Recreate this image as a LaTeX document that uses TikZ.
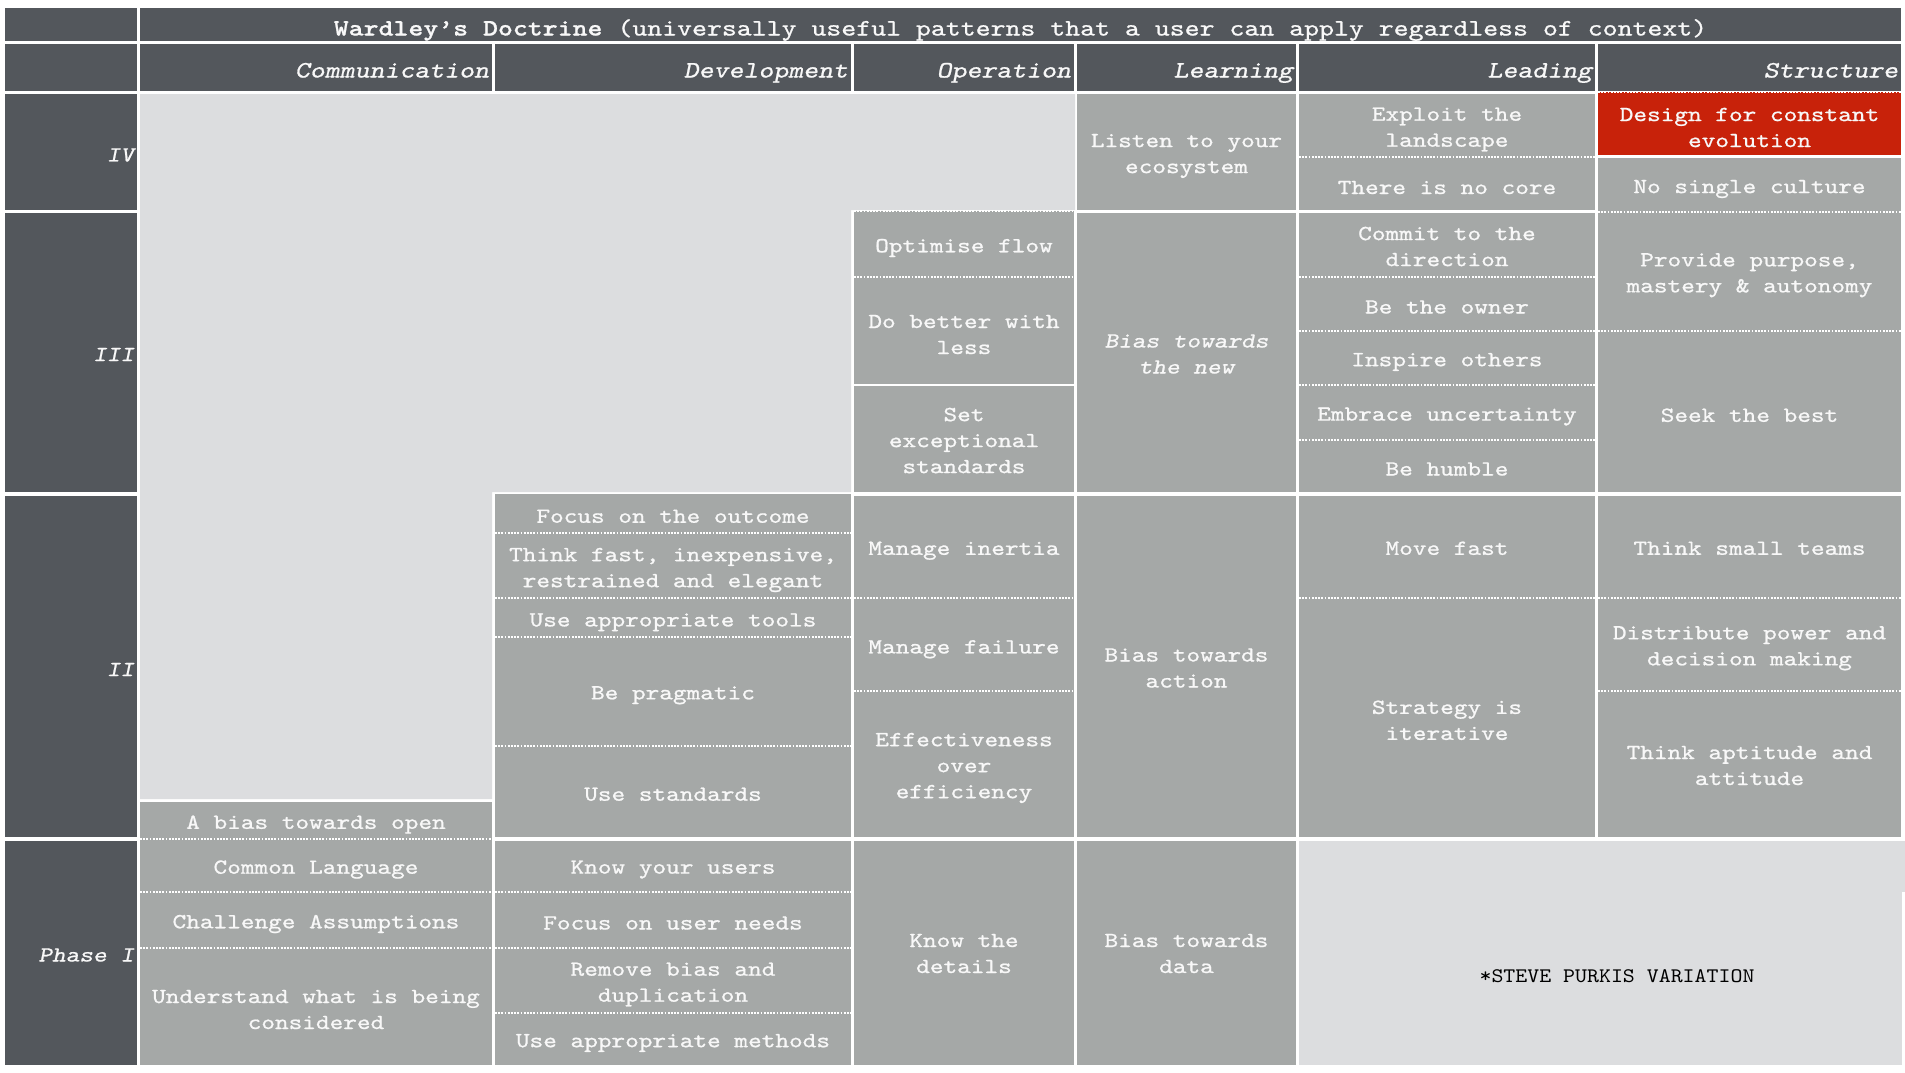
\documentclass[tikz,border=0pt]{standalone}
\usepackage{fontspec}
\newfontfamily\wmono[Extension=.otf, UprightFont=lmmono10-regular, BoldFont=lmmonolt10-bold, ItalicFont=lmmonoslant10-regular, FakeStretch=1.21, FakeBold=0.9]{lmmono10-regular}
\newfontfamily\wnote[Extension=.otf, FakeStretch=1.1]{lmmono10-regular}
\definecolor{darkhdr}{RGB}{83,87,92}
\definecolor{cellgray}{RGB}{165,168,167}
\definecolor{lightreg}{RGB}{220,221,223}
\definecolor{redcell}{RGB}{200,34,10}
\definecolor{celltext}{RGB}{248,248,248}
\tikzset{
  base/.style={inner sep=0pt, outer sep=0pt, draw=none, align=center, text=celltext,
    font=\wmono\fontsize{21.5}{26}\selectfont},
  cellst/.style={base, fill=cellgray},
  italst/.style={base, fill=cellgray, font=\wmono\itshape\fontsize{21.5}{26}\selectfont},
  redst/.style={base, fill=redcell},
  hdrst/.style={base, fill=darkhdr},
  titlest/.style={base, fill=darkhdr, font=\wmono\fontsize{23.5}{26}\selectfont},
  colhd/.style={inner sep=0pt, outer sep=0pt, text=celltext, anchor=base east,
    font=\wmono\itshape\fontsize{23.5}{26}\selectfont},
  rowhd/.style={inner sep=0pt, outer sep=0pt, text=celltext, anchor=east,
    font=\wmono\itshape\fontsize{21.5}{26}\selectfont},
  notest/.style={inner sep=0pt, outer sep=0pt, text=black,
    font=\wnote\fontsize{20.7}{24}\selectfont},
  dotline/.style={draw=white, line width=2pt, dash pattern=on 1.8pt off 1.4pt},
}
% [#1 text shift], #2 style, #3 name, #4 x1, #5 y1, #6 x2, #7 y2, #8 text
\newcommand\cbox[8][-4pt]{%
  \node[#2, minimum width={(#6-#4)*1pt}, minimum height={(#7-#5)*1pt}] (#3)
    at ({(#4+#6)/2},{(#5+#7)/2}) {};
  \node[#2, fill=none] (#3t) at ([yshift=#1]#3.center) {#8};}
\newcommand\sepline[1]{\draw[dotline] (#1.south west) -- (#1.south east);}
\begin{document}
\begin{tikzpicture}[x=1pt,y=-1pt]
\useasboundingbox (0,0) rectangle (1905,1072);
\fill[white] (0,0) rectangle (1905,1072);
\coordinate (tbase) at (0,35.5);
\coordinate (hbase) at (0,77.5);

% left column
\cbox{hdrst}{c00}{5}{8}{137}{41}{}
\cbox{hdrst}{c01}{5}{43.5}{137}{91}{}
\cbox{hdrst}{rIV}{5}{94}{137}{210}{}
\cbox{hdrst}{rIII}{5}{213}{137}{492}{}
\cbox{hdrst}{rII}{5}{496}{137}{837}{}
\cbox{hdrst}{rI}{5}{841}{137}{1065}{}
\node[rowhd] (tIV) at ([xshift=-3pt,yshift=-3pt]rIV.east) {IV};
\node[rowhd] (tIII) at ([xshift=-3pt,yshift=-2pt]rIII.east) {III};
\node[rowhd] (tII) at ([xshift=-3pt,yshift=-3pt]rII.east) {II};
\node[rowhd] (tI) at ([xshift=-3pt,yshift=-2pt]rI.east) {Phase I};

% title
\cbox{titlest}{title}{140}{8}{1901}{41}{}
\node[titlest, fill=none, anchor=base] (titlet) at (title.center |- tbase) {\textbf{Wardley’s Doctrine} (universally useful patterns that a user can apply regardless of context)};

% column headers
\cbox{hdrst}{hC}{140}{43.5}{492}{91}{}
\cbox{hdrst}{hD}{495}{43.5}{851}{91}{}
\cbox{hdrst}{hO}{854}{43.5}{1074}{91}{}
\cbox{hdrst}{hLe}{1077}{43.5}{1296}{91}{}
\cbox{hdrst}{hLd}{1299}{43.5}{1595}{91}{}
\cbox{hdrst}{hS}{1598}{43.5}{1901}{91}{}
\node[colhd] (tC) at ([xshift=-3pt]hC.east |- hbase) {Communication};
\node[colhd] (tD) at ([xshift=-3pt]hD.east |- hbase) {Development};
\node[colhd] (tO) at ([xshift=-3pt]hO.east |- hbase) {Operation};
\node[colhd] (tLe) at ([xshift=-3pt]hLe.east |- hbase) {Learning};
\node[colhd] (tLd) at ([xshift=-3pt]hLd.east |- hbase) {Leading};
\node[colhd] (tS) at ([xshift=-3pt]hS.east |- hbase) {Structure};

% light (empty) region
\fill[lightreg] (140,94) -- (1075,94) -- (1075,210) -- (851,210) -- (851,492)
  -- (492,492) -- (492,799) -- (140,799) -- cycle;

% row IV
\cbox{cellst}{lis}{1077}{94}{1296}{210}{Listen to your\\ecosystem}
\cbox{cellst}{exp}{1299}{94}{1595}{157}{Exploit the\\landscape}
\cbox{cellst}{core}{1299}{157}{1595}{210}{There is no core}
\cbox{redst}{des}{1598}{92}{1901}{155}{Design for constant\\evolution}
\cbox{cellst}{nsc}{1598}{158}{1901}{212}{No single culture}

% row III
\cbox{cellst}{opt}{854}{211}{1074}{277}{Optimise flow}
\cbox{cellst}{dob}{854}{277}{1074}{384}{Do better with\\less}
\cbox[-1.5pt]{cellst}{set}{854}{386}{1074}{492}{Set\\exceptional\\standards}
\cbox[-1.5pt]{italst}{btn}{1077}{213}{1296}{492}{Bias towards\\the new}
\cbox[-1.5pt]{cellst}{cmt}{1299}{213}{1595}{277}{Commit to the\\direction}
\cbox[-3pt]{cellst}{own}{1299}{277}{1595}{331}{Be the owner}
\cbox{cellst}{ins}{1299}{331}{1595}{385}{Inspire others}
\cbox{cellst}{emb}{1299}{385}{1595}{440}{Embrace uncertainty}
\cbox[-3pt]{cellst}{hum}{1299}{440}{1595}{492}{Be humble}
\cbox{cellst}{pp}{1598}{212}{1901}{330.5}{Provide purpose,\\mastery \& autonomy}
\cbox{cellst}{seek}{1598}{330.5}{1901}{492}{Seek the best}

% row II
\cbox[-3pt]{cellst}{foc}{495}{494}{851}{532.5}{Focus on the outcome}
\cbox[-5pt]{cellst}{thk}{495}{532.5}{851}{597.5}{Think fast, inexpensive,\\restrained and elegant}
\cbox[-5pt]{cellst}{uat}{495}{597.5}{851}{637}{Use appropriate tools}
\cbox{cellst}{prg}{495}{637}{851}{745.5}{Be pragmatic}
\cbox[-3pt]{cellst}{ust}{495}{745.5}{851}{837}{Use standards}
\cbox{cellst}{mi}{854}{496}{1074}{597.5}{Manage inertia}
\cbox[-5pt]{cellst}{mf}{854}{597.5}{1074}{691}{Manage failure}
\cbox{cellst}{eoe}{854}{691}{1074}{837}{Effectiveness\\over\\efficiency}
\cbox[-1.5pt]{cellst}{bta}{1077}{496}{1296}{837}{Bias towards\\action}
\cbox[-1.5pt]{cellst}{mvf}{1299}{496}{1595}{597.5}{Move fast}
\cbox[-3pt]{cellst}{sii}{1299}{597.5}{1595}{837}{Strategy is\\iterative}
\cbox[-1.5pt]{cellst}{tst}{1598}{496}{1901}{597.5}{Think small teams}
\cbox{cellst}{dpd}{1598}{597.5}{1901}{691}{Distribute power and\\decision making}
\cbox[-1.5pt]{cellst}{taa}{1598}{691}{1901}{837}{Think aptitude and\\attitude}
\cbox{cellst}{abo}{140}{802}{492}{839}{A bias towards open}

% row I
\cbox{cellst}{cl}{140}{839}{492}{892}{Common Language}
\cbox{cellst}{ca}{140}{892}{492}{948}{Challenge Assumptions}
\cbox[-3pt]{cellst}{uwc}{140}{948}{492}{1065}{Understand what is being\\considered}
\cbox[-3pt]{cellst}{kyu}{495}{841}{851}{892}{Know your users}
\cbox[-3pt]{cellst}{fun}{495}{892}{851}{948}{Focus on user needs}
\cbox{cellst}{rbd}{495}{948}{851}{1013}{Remove bias and\\duplication}
\cbox{cellst}{uam}{495}{1013}{851}{1065}{Use appropriate methods}
\cbox[-0.5pt]{cellst}{ktd}{854}{841}{1074}{1065}{Know the\\details}
\cbox[-0.5pt]{cellst}{btd}{1077}{841}{1296}{1065}{Bias towards\\data}
\fill[lightreg] (1299,841) rectangle (1905,892);
\node[fill=lightreg, inner sep=0pt, outer sep=0pt, minimum width=603pt, minimum height=224pt]
  (spv) at (1600.5,953) {};
\node[notest] (spvt) at (1617,976) {*STEVE PURKIS VARIATION};

% dotted separators
\draw[dotline] (des.north west) -- (des.north east);
\draw[dotline] (opt.north west) -- (opt.north east);
\sepline{exp}
\sepline{nsc}
\sepline{pp}
\sepline{opt}
\sepline{cmt}
\sepline{own}
\sepline{ins}
\sepline{emb}
\sepline{foc}
\sepline{thk}
\sepline{uat}
\sepline{prg}
\sepline{mi}
\sepline{mf}
\sepline{mvf}
\sepline{tst}
\sepline{dpd}
\sepline{abo}
\sepline{cl}
\sepline{ca}
\sepline{kyu}
\sepline{fun}
\sepline{rbd}
\end{tikzpicture}
\end{document}
